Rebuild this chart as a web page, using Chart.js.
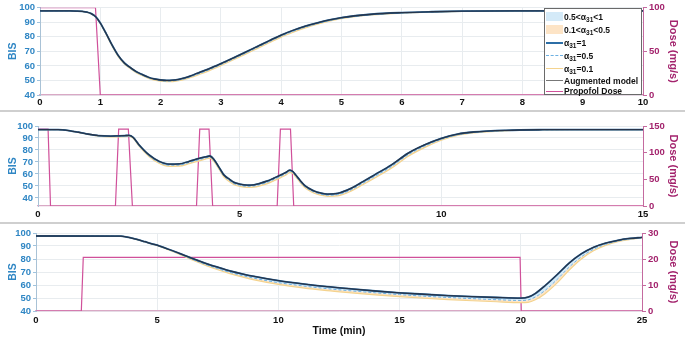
<!DOCTYPE html>
<html>
<head>
<meta charset="utf-8">
<script src="https://cdn.jsdelivr.net/npm/chart.js@4.4.1/dist/chart.umd.min.js"></script>
<style>
  body { margin: 0; background: #fff; }
  #page { position: relative; width: 685px; height: 338px; overflow: hidden; font-family: 'Liberation Sans', Arial, sans-serif; }
  .panel { position: absolute; left: 0; width: 685px; }
  .sep { position: absolute; left: 0; width: 685px; height: 2px; background: #cfcfcf; }
  #legend { position: absolute; left: 544px; top: 8px; width: 98px; height: 87px; border: 1px solid #6a6a6a; background: #fff;
            font: bold 8.5px 'Liberation Sans', Arial, sans-serif; color: #111; box-sizing: border-box; padding-top: 1px; }
  #legend .row { display: flex; align-items: center; white-space: nowrap; }
  #legend .sw { display: inline-block; width: 17px; margin: 0 1px 0 1px; box-sizing: border-box; flex: none; }
  #legend sub { font-size: 6.5px; vertical-align: -2px; line-height: 0; }
</style>
</head>
<body>
<div id="page">
  <div class="panel" style="top:0;height:110px"><canvas id="chart1" width="685" height="110"></canvas></div>
  <div class="sep" style="top:110px"></div>
  <div class="panel" style="top:112px;height:110px"><canvas id="chart2" width="685" height="110"></canvas></div>
  <div class="sep" style="top:222px"></div>
  <div class="panel" style="top:224px;height:114px"><canvas id="chart3" width="685" height="114"></canvas></div>
  <div id="legend"></div>
</div>
<script>
// ---- panel 1: single bolus ----
var p1Time = [0, 0.5, 0.6, 0.7, 0.75, 0.8, 0.85, 0.9, 0.95, 1.0, 1.1, 1.2, 1.3, 1.4, 1.5, 1.6, 1.7, 1.8, 1.9, 2.0,
              2.1, 2.2, 2.3, 2.4, 2.5, 2.6, 2.8, 3.0, 3.2, 3.4, 3.6, 3.8, 4.0, 4.2, 4.4, 4.6, 4.8, 5.0, 5.5, 6.0,
              6.5, 7.0, 8.0, 10.0];
var p1Augmented = [97.8, 97.8, 97.7, 97.5, 97.2, 96.7, 95.9, 94.6, 92.5, 89.5, 82.0, 74.0, 67.0, 62.0, 58.8, 56.0, 54.0, 52.2, 51.0, 50.3,
                   50.0, 50.2, 50.8, 51.8, 53.2, 54.8, 58.0, 61.6, 65.4, 69.3, 73.3, 77.3, 81.2, 84.5, 87.3, 89.6, 91.6, 93.2, 95.5, 96.6,
                   97.2, 97.6, 97.8, 97.8];
var p1Alpha1 = [97.8, 97.8, 97.7, 97.5, 97.2, 96.7, 95.9, 94.6, 92.5, 89.5, 82.0, 74.0, 67.0, 62.0, 58.8, 56.0, 54.0, 52.2, 51.0, 50.3,
                50.0, 50.2, 50.8, 51.8, 53.2, 54.8, 58.0, 61.6, 65.4, 69.3, 73.3, 77.3, 81.2, 84.5, 87.3, 89.6, 91.6, 93.2, 95.5, 96.6,
                97.2, 97.6, 97.8, 97.8];
var p1Alpha05 = [97.8, 97.8, 97.7, 97.5, 97.2, 96.7, 95.8, 94.5, 92.3, 89.3, 81.7, 73.6, 66.6, 61.6, 58.4, 55.6, 53.6, 51.8, 50.6, 49.9,
                 49.6, 49.7, 50.3, 51.2, 52.6, 54.1, 57.3, 60.9, 64.7, 68.6, 72.6, 76.6, 80.5, 83.8, 86.7, 89.1, 91.2, 92.8, 95.2, 96.4,
                 97.1, 97.5, 97.8, 97.8];
var p1Alpha01 = [97.8, 97.8, 97.7, 97.5, 97.1, 96.6, 95.7, 94.4, 92.1, 89.1, 81.4, 73.2, 66.2, 61.2, 58.0, 55.2, 53.2, 51.4, 50.2, 49.5,
                 49.2, 49.2, 49.8, 50.7, 52.0, 53.5, 56.6, 60.2, 64.0, 67.9, 71.9, 75.9, 79.8, 83.1, 86.1, 88.6, 90.8, 92.5, 95.0, 96.3,
                 97.0, 97.4, 97.7, 97.8];
var p1DoseTime = [0, 0.92, 1.0, 10];
var p1Dose = [100, 100, 0, 0];
var p1TimeTicks = [0, 1, 2, 3, 4, 5, 6, 7, 8, 9, 10];
var p1DoseTicks = [0, 50, 100];

// ---- panel 2: repeated boluses ----
var p2Time = [0, 0.5, 0.8, 1.0, 1.2, 1.5, 1.8, 2.0, 2.15, 2.26, 2.36, 2.5, 2.75, 3.0, 3.25, 3.5, 3.75, 4.0, 4.15, 4.26,
              4.36, 4.5, 4.61, 4.75, 4.86, 5.0, 5.19, 5.35, 5.5, 5.69, 5.85, 6.02, 6.15, 6.25, 6.32, 6.39, 6.5, 6.6, 6.72, 6.85,
              7.0, 7.18, 7.43, 7.76, 8.05, 8.34, 8.76, 9.17, 9.58, 10.0, 10.4, 10.8, 11.6, 12.5, 13.5, 15];
var p2Augmented = [97.0, 97.0, 96.0, 94.8, 93.5, 92.0, 91.6, 91.8, 92.0, 92.2, 90.5, 84.5, 76.0, 70.6, 68.2, 68.4, 70.6, 73.0, 74.3, 75.0,
                   72.2, 65.0, 59.2, 55.5, 53.0, 51.6, 50.7, 51.0, 52.2, 54.2, 56.6, 59.2, 61.4, 63.3, 62.0, 59.2, 54.6, 50.8, 48.0, 45.8,
                   44.3, 43.3, 43.9, 48.0, 53.5, 59.2, 67.5, 77.2, 84.2, 89.7, 93.3, 95.0, 96.4, 96.9, 97.0, 97.0];
var p2Alpha1 = [97.0, 97.0, 96.0, 94.8, 93.5, 92.0, 91.6, 91.8, 92.0, 92.2, 90.5, 84.5, 76.0, 70.6, 68.2, 68.4, 70.6, 73.0, 74.3, 75.0,
                72.2, 65.0, 59.2, 55.5, 53.0, 51.6, 50.7, 51.0, 52.2, 54.2, 56.6, 59.2, 61.4, 63.3, 62.0, 59.2, 54.6, 50.8, 48.0, 45.8,
                44.3, 43.3, 43.9, 48.0, 53.5, 59.2, 67.5, 77.2, 84.2, 89.7, 93.3, 95.0, 96.4, 96.9, 97.0, 97.0];
var p2Alpha05 = [97.0, 97.0, 96.0, 94.8, 93.4, 91.8, 91.3, 91.4, 91.6, 91.8, 90.1, 84.0, 75.3, 69.8, 67.3, 67.4, 69.6, 72.0, 73.3, 74.1,
                 71.4, 64.1, 58.3, 54.5, 52.0, 50.6, 49.7, 50.0, 51.1, 53.1, 55.5, 58.1, 60.3, 62.3, 61.2, 58.4, 53.7, 49.9, 47.1, 44.9,
                 43.3, 42.3, 42.8, 46.8, 52.2, 57.8, 66.1, 75.9, 83.1, 88.9, 92.7, 94.6, 96.2, 96.8, 97.0, 97.0];
var p2Alpha01 = [97.0, 97.0, 96.0, 94.7, 93.3, 91.6, 91.0, 91.0, 91.2, 91.4, 89.7, 83.4, 74.6, 69.0, 66.4, 66.5, 68.6, 71.0, 72.4, 73.2,
                 70.6, 63.3, 57.4, 53.6, 51.1, 49.7, 48.8, 49.0, 50.1, 52.0, 54.4, 57.0, 59.2, 61.3, 60.4, 57.6, 52.9, 49.1, 46.2, 44.0,
                 42.4, 41.4, 41.8, 45.7, 51.0, 56.5, 64.8, 74.6, 82.0, 88.1, 92.1, 94.2, 96.0, 96.7, 96.9, 97.0];
var p2DoseTime = [0, 0.25, 0.31, 1.92, 2.0, 2.24, 2.34, 3.93, 4.01, 4.24, 4.33, 5.93, 6.01, 6.26, 6.34, 15];
var p2Dose = [144, 144, 0, 0, 144, 144, 0, 0, 144, 144, 0, 0, 144, 144, 0, 0];
var p2TimeTicks = [0, 5, 10, 15];
var p2DoseTicks = [0, 50, 100, 150];

// ---- panel 3: constant infusion ----
var p3Time = [0, 3.5, 4, 4.5, 5, 5.5, 6, 6.5, 7, 7.5, 8, 8.5, 9, 10, 11, 12, 13, 14, 15, 16,
              17, 18, 19, 20, 20.3, 20.6, 21, 21.5, 22, 22.5, 23, 23.5, 24, 24.5, 25];
var p3Augmented = [97.7, 97.6, 95.8, 93.3, 90.6, 87.3, 83.8, 80.1, 76.7, 73.7, 70.9, 68.6, 66.6, 63.3, 60.8, 58.7, 57.0, 55.4, 54.0, 52.9,
                   51.9, 51.1, 50.4, 49.9, 50.6, 53.5, 59.5, 68.0, 77.0, 84.0, 89.0, 92.3, 94.4, 95.8, 96.6];
var p3Alpha1 = [97.7, 97.6, 95.8, 93.3, 90.6, 87.3, 83.8, 80.1, 76.7, 73.7, 70.9, 68.6, 66.6, 63.3, 60.8, 58.7, 57.0, 55.4, 54.0, 52.9,
                51.9, 51.1, 50.4, 49.9, 50.6, 53.5, 59.5, 68.0, 77.0, 84.0, 89.0, 92.3, 94.4, 95.8, 96.6];
var p3Alpha05 = [97.7, 97.6, 95.8, 93.2, 90.4, 87.0, 83.3, 79.4, 75.8, 72.6, 69.7, 67.3, 65.2, 61.8, 59.3, 57.2, 55.5, 54.0, 52.6, 51.4,
                 50.4, 49.5, 48.7, 48.1, 48.5, 50.8, 55.8, 64.3, 73.8, 81.7, 87.5, 91.3, 93.8, 95.4, 96.4];
var p3Alpha01 = [97.7, 97.6, 95.7, 93.1, 90.2, 86.7, 82.9, 78.8, 75.1, 71.7, 68.7, 66.2, 64.0, 60.5, 57.8, 55.7, 54.0, 52.4, 51.0, 49.8,
                 48.8, 47.9, 47.1, 46.5, 46.7, 48.6, 53.3, 61.6, 71.5, 80.0, 86.3, 90.5, 93.3, 95.0, 96.2];
var p3DoseTime = [0, 1.87, 1.95, 19.97, 20.02, 25];
var p3Dose = [0, 0, 20.6, 20.6, 0, 0];
var p3TimeTicks = [0, 5, 10, 15, 20, 25];
var p3DoseTicks = [0, 10, 20, 30];

var bisTicks = [40, 50, 60, 70, 80, 90, 100];

var BLUE = '#2f86c4';
var MAGENTA = '#a3236d';
var FONT = "'Liberation Sans', Arial, sans-serif";

var colors = {
    augmented: '#26344a',
    alpha1: '#2c6ea6',
    alpha05: '#6cb0e2',
    alpha01: '#f4d38e',
    band1: '#d4eaf8',
    band2: '#fde4c6',
    dose: '#d0509a'
};

function pts(xs, ys) {
    return xs.map(function(x, i){ return {x: x, y: ys[i]}; });
}

function fixedTicks(list) {
    return function(scale){ scale.ticks = list.map(function(v){ return {value: v}; }); };
}

function makePanel(id, p) {
    var datasets = [
        { label: 'Augmented model', data: pts(p.time, p.augmented), yAxisID: 'y', borderColor: colors.augmented,
          borderWidth: 1.3, order: 0 },
        { label: 'a31=1', data: pts(p.time, p.alpha1), yAxisID: 'y', borderColor: colors.alpha1,
          borderWidth: 1.8, order: 1 },
        { label: 'a31=0.5', data: pts(p.time, p.alpha05), yAxisID: 'y', borderColor: colors.alpha05,
          borderWidth: 1, borderDash: [3, 2], fill: 1, backgroundColor: colors.band1, order: 2 },
        { label: 'a31=0.1', data: pts(p.time, p.alpha01), yAxisID: 'y', borderColor: colors.alpha01,
          borderWidth: 1.2, fill: 2, backgroundColor: colors.band2, order: 3 },
        { label: 'Propofol Dose', data: pts(p.doseTime, p.dose), yAxisID: 'y2', borderColor: colors.dose,
          borderWidth: 1.2, tension: 0, cubicInterpolationMode: 'default', order: 4 }
    ];
    var tickFont = {family: FONT, size: 9.5, weight: 'bold'};
    return new Chart(document.getElementById(id).getContext('2d'), {
        type: 'line',
        data: { datasets: datasets },
        options: {
            responsive: false,
            animation: false,
            events: [],
            layout: { padding: { top: p.top, left: 0, right: 0, bottom: 0 } },
            elements: {
                point: { radius: 0 },
                line: { cubicInterpolationMode: 'monotone', fill: false }
            },
            plugins: { legend: { display: false }, tooltip: { enabled: false } },
            scales: {
                x: {
                    type: 'linear', min: 0, max: p.xMax,
                    afterBuildTicks: fixedTicks(p.timeTicks),
                    afterFit: function(s){ s.height = p.xHeight; },
                    ticks: { color: '#111', font: tickFont, padding: p.xPad, maxRotation: 0, autoSkip: false },
                    grid: { color: '#e8ecef', drawTicks: false },
                    border: { color: '#d9a9c5', width: 1.2 },
                    title: { display: !!p.xTitle, text: p.xTitle || '', color: '#111',
                             font: {family: FONT, size: 10.5, weight: 'bold'}, padding: {top: 0, bottom: 1} }
                },
                y: {
                    type: 'linear', position: 'left', min: p.bisMin, max: 100,
                    afterBuildTicks: fixedTicks(bisTicks),
                    afterFit: function(s){ s.width = p.left; },
                    ticks: { color: BLUE, font: tickFont, padding: 2, autoSkip: false },
                    grid: { color: '#e8ecef', tickColor: '#9fc3de', tickLength: 3 },
                    border: { color: '#a9c2d6' },
                    title: { display: true, text: 'BIS', color: BLUE,
                             font: {family: FONT, size: 10.5, weight: 'bold'}, padding: {top: 6.5, bottom: 0} }
                },
                y2: {
                    type: 'linear', position: 'right', min: 0, max: p.doseMax,
                    afterBuildTicks: fixedTicks(p.doseTicks),
                    afterFit: function(s){ s.width = p.right; },
                    ticks: { color: MAGENTA, font: tickFont, padding: 2, autoSkip: false },
                    grid: { drawOnChartArea: false, color: '#c46a9f', tickLength: 4 },
                    border: { color: '#c46a9f' },
                    title: { display: true, text: 'Dose (mg/s)', color: MAGENTA,
                             font: {family: FONT, size: 11, weight: 'bold'}, padding: {top: 5.5, bottom: 0} }
                }
            }
        }
    });
}

function buildLegend() {
    var items = [
        { type: 'box', color: colors.band1, html: '0.5&lt;α<sub>31</sub>&lt;1', h: 13 },
        { type: 'box', color: colors.band2, html: '0.1&lt;α<sub>31</sub>&lt;0.5', h: 13 },
        { type: 'line', color: colors.alpha1, width: 2, style: 'solid', html: 'α<sub>31</sub>=1', h: 13 },
        { type: 'line', color: colors.alpha05, width: 1, style: 'dashed', html: 'α<sub>31</sub>=0.5', h: 13 },
        { type: 'line', color: colors.alpha01, width: 1.5, style: 'solid', html: 'α<sub>31</sub>=0.1', h: 13 },
        { type: 'line', color: '#777', width: 1.2, style: 'solid', html: 'Augmented model', h: 11 },
        { type: 'line', color: colors.dose, width: 1.2, style: 'solid', html: 'Propofol Dose', h: 10 }
    ];
    var el = document.getElementById('legend');
    items.forEach(function(it){
        var row = document.createElement('div');
        row.className = 'row';
        row.style.height = it.h + 'px';
        var sw = document.createElement('span');
        sw.className = 'sw';
        if (it.type === 'box') {
            sw.style.height = '9px';
            sw.style.background = it.color;
        } else {
            sw.style.height = '0px';
            sw.style.borderTop = it.width + 'px ' + it.style + ' ' + it.color;
        }
        var tx = document.createElement('span');
        tx.innerHTML = it.html;
        row.appendChild(sw);
        row.appendChild(tx);
        el.appendChild(row);
    });
}

document.addEventListener('DOMContentLoaded', function(){
    makePanel('chart1', {
        time: p1Time, augmented: p1Augmented, alpha1: p1Alpha1, alpha05: p1Alpha05, alpha01: p1Alpha01,
        doseTime: p1DoseTime, dose: p1Dose, timeTicks: p1TimeTicks, doseTicks: p1DoseTicks,
        xMax: 10, bisMin: 40, doseMax: 100, top: 6, xHeight: 15, xPad: 2, left: 40, right: 42
    });
    makePanel('chart2', {
        time: p2Time, augmented: p2Augmented, alpha1: p2Alpha1, alpha05: p2Alpha05, alpha01: p2Alpha01,
        doseTime: p2DoseTime, dose: p2Dose, timeTicks: p2TimeTicks, doseTicks: p2DoseTicks,
        xMax: 15, bisMin: 33.33, doseMax: 150, top: 14, xHeight: 16, xPad: 3, left: 38, right: 42
    });
    makePanel('chart3', {
        time: p3Time, augmented: p3Augmented, alpha1: p3Alpha1, alpha05: p3Alpha05, alpha01: p3Alpha01,
        doseTime: p3DoseTime, dose: p3Dose, timeTicks: p3TimeTicks, doseTicks: p3DoseTicks,
        xMax: 25, bisMin: 40, doseMax: 30, top: 9, xHeight: 27, xPad: 4, left: 36, right: 43,
        xTitle: 'Time (min)'
    });
    buildLegend();
});
</script>
</body>
</html>
